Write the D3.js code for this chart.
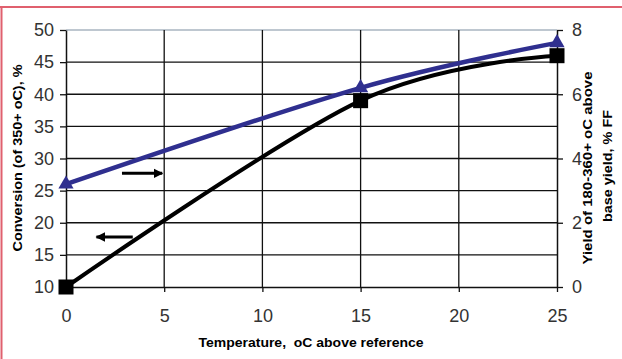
<!DOCTYPE html>
<html>
<head>
<meta charset="utf-8">
<script src="https://cdn.jsdelivr.net/npm/d3@7"></script>
<style>
  html, body { margin: 0; padding: 0; background: #fff; }
  svg { display: block; }
</style>
</head>
<body>
<svg id="chart" width="622" height="359"></svg>
<script>
// ---- data ----
const temperature = [0, 15, 25];
const conversion = [10, 39, 46];        // left axis, %
const yieldFF = [3.2, 6.2, 7.6];        // right axis, % FF
const xTicks = [0, 5, 10, 15, 20, 25];
const leftTicks = [10, 15, 20, 25, 30, 35, 40, 45, 50];
const rightTicks = [0, 2, 4, 6, 8];
// annotation arrows (data units: x, left-axis y)
const arrowRight = { x1: 2.85, x2: 4.9, y: 27.7 };
const arrowLeft = { x1: 3.4, x2: 1.55, y: 17.8 };

const xTitle = "Temperature,  oC above reference";
const leftTitle = "Conversion (of 350+ oC), %";
const rightTitle1 = "Yield of 180-360+ oC above";
const rightTitle2 = "base yield, % FF";

// ---- layout ----
const svg = d3.select("#chart");
const L = 66, R = 557, T = 30, B = 287;

const x = d3.scaleLinear().domain([0, 25]).range([L, R]);
const yL = d3.scaleLinear().domain([10, 50]).range([B, T]);
const yR = d3.scaleLinear().domain([0, 8]).range([B, T]);

// frame
svg.append("line").attr("x1", 0).attr("x2", 622).attr("y1", 7).attr("y2", 7)
  .attr("stroke", "#e0606e").attr("stroke-width", 2);
svg.append("line").attr("x1", 1.5).attr("x2", 1.5).attr("y1", 6).attr("y2", 359)
  .attr("stroke", "#e0606e").attr("stroke-width", 2);

// gridlines
const grid = svg.append("g");
grid.selectAll("line.h").data(leftTicks.filter(d => d > 10 && d < 50)).join("line")
  .attr("x1", L).attr("x2", R).attr("y1", d => yL(d)).attr("y2", d => yL(d))
  .attr("stroke", "#111").attr("stroke-width", 1.3);
grid.append("line").attr("x1", L).attr("x2", R).attr("y1", yL(50)).attr("y2", yL(50))
  .attr("stroke", "#a8b4c0").attr("stroke-width", 1.3);
grid.selectAll("line.v").data(xTicks.filter(d => d > 0 && d < 25)).join("line")
  .attr("x1", d => x(d)).attr("x2", d => x(d)).attr("y1", T).attr("y2", B)
  .attr("stroke", "#111").attr("stroke-width", 1.3);

// axes
const tickFont = "Liberation Sans, Arial, sans-serif";
function styleAxis(g) {
  g.selectAll("path.domain").attr("stroke", "#111").attr("stroke-width", 1.5);
  g.selectAll(".tick line").attr("stroke", "#111").attr("stroke-width", 1.3);
  g.selectAll(".tick text").attr("fill", "#333")
    .style("font-family", tickFont).style("font-size", "18px");
}
svg.append("g").attr("transform", `translate(0,${B})`)
  .call(d3.axisBottom(x).tickValues(xTicks).tickSize(5).tickPadding(17).tickSizeOuter(0))
  .call(styleAxis);
svg.append("g").attr("transform", `translate(${L},0)`)
  .call(d3.axisLeft(yL).tickValues(leftTicks).tickSize(6).tickPadding(6).tickSizeOuter(0))
  .call(styleAxis);
svg.append("g").attr("transform", `translate(${R},0)`)
  .call(d3.axisRight(yR).tickValues(rightTicks).tickSize(6).tickPadding(9).tickSizeOuter(0))
  .call(styleAxis);

// series
const blueColor = "#2f2f8f";
const curve = d3.curveCardinal.tension(0);
const blueLine = d3.line().x((d, i) => x(temperature[i])).y(d => yR(d)).curve(curve);
const blackLine = d3.line().x((d, i) => x(temperature[i])).y(d => yL(d)).curve(curve);

svg.append("path").datum(yieldFF).attr("d", blueLine)
  .attr("fill", "none").attr("stroke", blueColor).attr("stroke-width", 4.5);
svg.append("g").selectAll("path").data(yieldFF).join("path")
  .attr("d", d3.symbol(d3.symbolTriangle, 100))
  .attr("transform", (d, i) => `translate(${x(temperature[i])},${yR(d)})`)
  .attr("fill", blueColor);

svg.append("path").datum(conversion).attr("d", blackLine)
  .attr("fill", "none").attr("stroke", "#000").attr("stroke-width", 4);
svg.append("g").selectAll("rect").data(conversion).join("rect")
  .attr("x", (d, i) => x(temperature[i]) - 7.5).attr("y", d => yL(d) - 7.5)
  .attr("width", 15).attr("height", 15).attr("fill", "#000");

// arrows
const defs = svg.append("defs");
defs.append("marker").attr("id", "ah").attr("viewBox", "0 0 10 10")
  .attr("refX", 9).attr("refY", 5).attr("markerWidth", 3.2).attr("markerHeight", 3.2)
  .attr("markerUnits", "strokeWidth").attr("orient", "auto")
  .append("path").attr("d", "M0,0 L10,5 L0,10 z").attr("fill", "#000");
[arrowRight, arrowLeft].forEach(a => {
  svg.append("line").attr("x1", x(a.x1)).attr("x2", x(a.x2))
    .attr("y1", yL(a.y)).attr("y2", yL(a.y))
    .attr("stroke", "#000").attr("stroke-width", 3)
    .attr("marker-end", "url(#ah)");
});

// titles
const titleFont = "Liberation Sans, Arial, sans-serif";
function title(sel) {
  return sel.attr("text-anchor", "middle").style("white-space", "pre")
    .style("font-family", titleFont).style("font-size", "12.5px").style("font-weight", "bold")
    .attr("lengthAdjust", "spacingAndGlyphs");
}
svg.append("text").attr("x", 311).attr("y", 347).call(title)
  .attr("textLength", 225).text(xTitle);
svg.append("text").attr("transform", "translate(22,158) rotate(-90)").call(title)
  .attr("textLength", 187).text(leftTitle);
svg.append("text").attr("transform", "translate(592,168) rotate(-90)").call(title)
  .attr("textLength", 193).text(rightTitle1);
svg.append("text").attr("transform", "translate(612,166) rotate(-90)").call(title)
  .attr("textLength", 112).text(rightTitle2);
</script>
</body>
</html>
